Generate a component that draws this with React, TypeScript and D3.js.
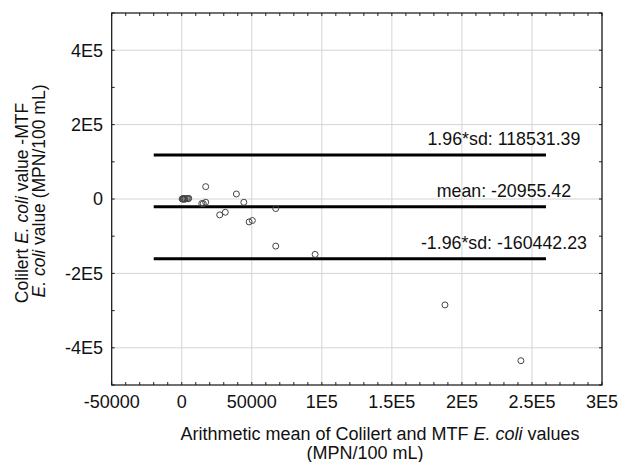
import React from 'react';
import * as d3 from 'd3';

// Bland-Altman data: mean of the two methods vs. difference
const meanValues = [
  300, 800, 1500, 2500, 3500, 4500, 1000, 2000, 5000,
  14300, 15400, 17100, 17100, 27100, 31100, 39000, 44300,
  48100, 50400, 67100, 67100, 95200, 187900, 242100,
];
const diffValues = [
  200, -300, 500, 800, 1200, 600, 1500, -800, 1800,
  -12300, -12300, -8800, 33200, -42800, -35600, 13400, -8800,
  -61600, -57800, -25700, -126600, -148900, -284700, -434700,
];

const refLines = [
  { value: 118531.39, label: '1.96*sd: 118531.39' },
  { value: -20955.42, label: 'mean: -20955.42' },
  { value: -160442.23, label: '-1.96*sd: -160442.23' },
];
const lineRange = [-20000, 260000];

const xTickValues = [-50000, 0, 50000, 100000, 150000, 200000, 250000, 300000];
const xTickLabels = ['-50000', '0', '50000', '1E5', '1.5E5', '2E5', '2.5E5', '3E5'];
const yTickValues = [-400000, -200000, 0, 200000, 400000];
const yTickLabels = ['-4E5', '-2E5', '0', '2E5', '4E5'];

const font = '"Liberation Sans", Arial, sans-serif';

export default function App() {
  const width = 621;
  const height = 462;
  const plot = { left: 111.7, right: 602, top: 13, bottom: 385 };

  const x = d3.scaleLinear().domain([-50000, 300000]).range([plot.left, plot.right]);
  const y = d3.scaleLinear().domain([-500000, 500000]).range([plot.bottom, plot.top]);

  const xMinor = d3.range(-50000, 300001, 10000);
  const yMinor = d3.range(-500000, 500001, 100000);

  const points = meanValues.map((m, i) => ({ m, d: diffValues[i] }));

  return (
    <svg
      width={width}
      height={height}
      style={{ position: 'absolute', left: 0, top: 0, background: '#fff' }}
      fontFamily={font}
    >
      {/* grid */}
      {xTickValues.map(v => (
        <line key={'gx' + v} x1={x(v)} x2={x(v)} y1={plot.top} y2={plot.bottom} stroke="#d4d4d4" strokeWidth={1} />
      ))}
      {yTickValues.map(v => (
        <line key={'gy' + v} x1={plot.left} x2={plot.right} y1={y(v)} y2={y(v)} stroke="#d4d4d4" strokeWidth={1} />
      ))}

      {/* minor ticks on all sides */}
      {xMinor.map(v => (
        <g key={'tx' + v} stroke="#222" strokeWidth={1}>
          <line x1={x(v)} x2={x(v)} y1={plot.bottom} y2={plot.bottom - 3} />
          <line x1={x(v)} x2={x(v)} y1={plot.top} y2={plot.top + 3} />
        </g>
      ))}
      {yMinor.map(v => (
        <g key={'ty' + v} stroke="#222" strokeWidth={1}>
          <line x1={plot.left} x2={plot.left + 3} y1={y(v)} y2={y(v)} />
          <line x1={plot.right} x2={plot.right - 3} y1={y(v)} y2={y(v)} />
        </g>
      ))}

      {/* frame */}
      <rect
        x={plot.left}
        y={plot.top}
        width={plot.right - plot.left}
        height={plot.bottom - plot.top}
        fill="none"
        stroke="#111"
        strokeWidth={1.2}
      />

      {/* reference lines */}
      {refLines.map(r => (
        <g key={r.label}>
          <line
            x1={x(lineRange[0])}
            x2={x(lineRange[1])}
            y1={y(r.value)}
            y2={y(r.value)}
            stroke="#000"
            strokeWidth={3}
          />
          <text x={x(230000)} y={y(r.value) - 10} textAnchor="middle" fontSize={17.8} fill="#111">
            {r.label}
          </text>
        </g>
      ))}

      {/* points */}
      {points.map((p, i) => (
        <circle key={i} cx={x(p.m)} cy={y(p.d)} r={3} fill="none" stroke="#444" strokeWidth={1} />
      ))}

      {/* tick labels */}
      {xTickValues.map((v, i) => (
        <text key={'lx' + v} x={x(v)} y={408} textAnchor="middle" fontSize={18} fill="#111">
          {xTickLabels[i]}
        </text>
      ))}
      {yTickValues.map((v, i) => (
        <text key={'ly' + v} x={103} y={y(v)} dy="0.35em" textAnchor="end" fontSize={18} fill="#111">
          {yTickLabels[i]}
        </text>
      ))}

      {/* axis titles */}
      <text x={380} y={440} textAnchor="middle" fontSize={18} fill="#111">
        Arithmetic mean of Colilert and MTF <tspan fontStyle="italic">E. coli</tspan> values
      </text>
      <text x={365} y={459} textAnchor="middle" fontSize={18} fill="#111">
        (MPN/100 mL)
      </text>
      <text transform="translate(28,203) rotate(-90)" textAnchor="middle" fontSize={17.5} fill="#111">
        Colilert <tspan fontStyle="italic">E. coli</tspan> value -MTF
      </text>
      <text transform="translate(45,191) rotate(-90)" textAnchor="middle" fontSize={17.5} fill="#111">
        <tspan fontStyle="italic">E. coli</tspan> value (MPN/100 mL)
      </text>
    </svg>
  );
}
